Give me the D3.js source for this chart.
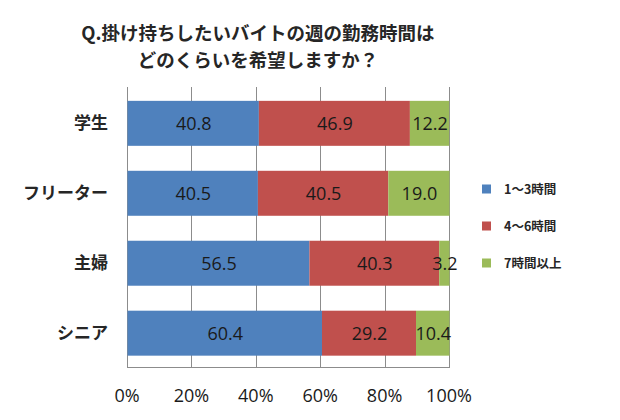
<!DOCTYPE html>
<html>
<head>
<meta charset="utf-8">
<script src="https://cdn.jsdelivr.net/npm/d3@7"></script>
<style>
  body { margin: 0; background: #fff; }
  svg { display: block; }
</style>
</head>
<body>
<div id="canvas"></div>
<script>
const categories = ['学生', 'フリーター', '主婦', 'シニア']
const seriesNames = ['1〜3時間', '4〜6時間', '7時間以上']
const hours1to3 = [40.8, 40.5, 56.5, 60.4]
const hours4to6 = [46.9, 40.5, 40.3, 29.2]
const hours7plus = [12.2, 19.0, 3.2, 10.4]
const xTicks = [0, 20, 40, 60, 80, 100]
const titleLines = ['Q.掛け持ちしたいバイトの週の勤務時間は', 'どのくらいを希望しますか？']

const colors = ['#4f81bd', '#c0504d', '#9bbb59']
const width = 620
const height = 420
const margin = { top: 87, right: 172, bottom: 53, left: 127 }

const jp = '"Noto Sans CJK JP", "Noto Sans", sans-serif'
const num = '"Open Sans", "Noto Sans", sans-serif'

const svg = d3.select('#canvas')
  .append('svg')
    .attr('width', width)
    .attr('height', height)

// title
svg.append('g').selectAll('text')
  .data(titleLines)
  .enter()
  .append('text')
    .attr('x', 258)
    .attr('y', (d, i) => 40 + i * 27)
    .attr('text-anchor', 'middle')
    .attr('font-family', jp)
    .attr('font-weight', 'bold')
    .attr('font-size', '18.5px')
    .attr('fill', '#262626')
    .text(d => d)

const x = d3.scaleLinear()
  .domain([0, 100])
  .range([margin.left, width - margin.right + 1])

const y = d3.scaleBand()
  .domain(categories)
  .range([margin.top, height - margin.bottom])
  .paddingInner(0.357)
  .paddingOuter(0.18)
  .align(0.55)

// stacked data
const rows = categories.map((c, i) => ({ name: c, v: [hours1to3[i], hours4to6[i], hours7plus[i]] }))
const segs = []
rows.forEach(r => {
  let acc = 0
  r.v.forEach((v, k) => {
    segs.push({ name: r.name, k: k, x0: acc, x1: acc + v, value: v })
    acc += v
  })
})

// gridlines
svg.append('g').selectAll('line')
  .data(xTicks)
  .enter()
  .append('line')
    .attr('x1', d => Math.round(x(d)) + 0.5)
    .attr('x2', d => Math.round(x(d)) + 0.5)
    .attr('y1', margin.top)
    .attr('y2', height - margin.bottom)
    .attr('stroke', '#8c8c8c')
    .attr('stroke-width', 1)

svg.append('line')
  .attr('x1', x(0))
  .attr('x2', x(100) + 1)
  .attr('y1', height - margin.bottom + 0.5)
  .attr('y2', height - margin.bottom + 0.5)
  .attr('stroke', '#8c8c8c')

// bars
svg.append('g').selectAll('rect')
  .data(segs)
  .enter()
  .append('rect')
    .attr('x', d => x(d.x0) + 0.5)
    .attr('y', d => y(d.name))
    .attr('width', d => x(d.x1) - x(d.x0))
    .attr('height', y.bandwidth())
    .attr('fill', d => colors[d.k])

// value labels
svg.append('g').selectAll('text')
  .data(segs)
  .enter()
  .append('text')
    .attr('x', d => (x(d.x0) + x(d.x1)) / 2 + 1)
    .attr('y', d => y(d.name) + y.bandwidth() / 2 + 7)
    .attr('text-anchor', 'middle')
    .attr('font-family', num)
    .attr('font-size', '18px')
    .attr('fill', '#1a1a1a')
    .text(d => d.value.toFixed(1))

// category labels
svg.append('g').selectAll('text')
  .data(categories)
  .enter()
  .append('text')
    .attr('x', 108)
    .attr('y', d => y(d) + y.bandwidth() / 2 + 6)
    .attr('text-anchor', 'end')
    .attr('font-family', jp)
    .attr('font-weight', 'bold')
    .attr('font-size', '17px')
    .attr('fill', '#262626')
    .text(d => d)

// x tick labels
svg.append('g').selectAll('text')
  .data(xTicks)
  .enter()
  .append('text')
    .attr('x', d => x(d))
    .attr('y', 402)
    .attr('text-anchor', 'middle')
    .attr('font-family', num)
    .attr('font-size', '18px')
    .attr('fill', '#1a1a1a')
    .text(d => d + '%')

// legend
const legend = svg.append('g').selectAll('g')
  .data(seriesNames)
  .enter()
  .append('g')
    .attr('transform', (d, i) => `translate(482, ${189 + i * 37})`)

legend.append('rect')
  .attr('x', 0)
  .attr('y', -4.5)
  .attr('width', 9)
  .attr('height', 9)
  .attr('fill', (d, i) => colors[i])

legend.append('text')
  .attr('x', 22)
  .attr('y', 4.5)
  .attr('font-family', jp)
  .attr('font-weight', 'bold')
  .attr('font-size', '12.5px')
  .attr('fill', '#262626')
  .text(d => d)
</script>
</body>
</html>
